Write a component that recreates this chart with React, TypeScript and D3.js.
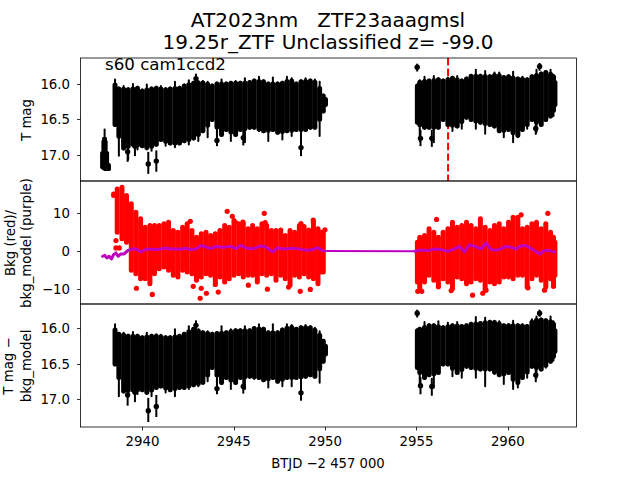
import React from "react";
import * as d3 from "d3";

const BASE = 2900;
const xDomain = [2936.61, 2963.76];
const xTicks = [2940, 2945, 2950, 2955, 2960];
const magTicks = [16, 16.5, 17];
const bkgTicks = [-10, 0, 10];
const eventTime = 2956.73;

// Early cluster, top panel only
const earlyT = [37.78, 37.85, 37.93, 38.0, 38.08, 38.18];
const earlyHi = [16.95, 16.75, 16.63, 16.75, 16.95, 17.12];
const earlyLo = [17.2, 17.22, 17.23, 17.23, 17.23, 17.23];

// Time bins of the dense black bands (days after 2900)
const magLeftT = [38.5, 38.71, 38.97, 39.22, 39.48, 39.73, 39.99, 40.24, 40.5, 40.76, 41.01, 41.27, 41.52, 41.78, 42.03, 42.29, 42.54, 42.8, 43.06, 43.31, 43.57, 43.82, 44.08, 44.33, 44.59, 44.84, 45.1, 45.36, 45.61, 45.87, 46.12, 46.38, 46.63, 46.89, 47.14, 47.4, 47.66, 47.91, 48.17, 48.42, 48.68, 48.93, 49.19, 49.44, 49.7, 49.9, 50.02];
const rightT = [55.05, 55.18, 55.44, 55.69, 55.95, 56.2, 56.46, 56.72, 56.97, 57.23, 57.48, 57.74, 57.99, 58.25, 58.5, 58.76, 59.02, 59.27, 59.53, 59.78, 60.04, 60.29, 60.55, 60.8, 61.06, 61.32, 61.57, 61.83, 62.08, 62.34, 62.5, 62.58];

// Top panel band limits
const magLeftHi = [15.93, 16.04, 16.02, 16.05, 15.99, 16.03, 16.07, 16.0, 16.04, 16.03, 16.02, 16.05, 16.04, 15.96, 16.03, 16.0, 15.94, 15.96, 15.95, 15.95, 15.96, 16.0, 15.97, 15.93, 15.97, 15.96, 15.95, 15.96, 15.91, 15.95, 15.93, 15.89, 15.94, 15.97, 15.9, 15.97, 15.96, 15.89, 15.91, 15.97, 15.94, 15.91, 15.93, 15.93, 15.96, 16.14, 16.19];
const magLeftLo = [16.61, 17.03, 16.94, 17.08, 16.89, 16.94, 16.91, 16.94, 16.96, 16.89, 16.82, 16.89, 16.87, 16.91, 16.87, 16.84, 16.87, 16.8, 16.82, 16.7, 16.77, 16.54, 16.87, 16.75, 16.68, 16.82, 16.75, 16.68, 16.84, 16.65, 16.65, 16.68, 16.7, 16.82, 16.68, 16.72, 16.8, 16.7, 16.75, 16.68, 17.0, 16.68, 16.65, 16.65, 16.75, 16.42, 16.33];
const magRightHi = [16.0, 15.94, 15.89, 15.93, 15.88, 15.91, 15.93, 15.9, 15.89, 15.88, 15.93, 15.9, 15.86, 15.79, 15.86, 15.81, 15.87, 15.83, 15.83, 15.88, 15.87, 15.82, 15.9, 15.89, 15.91, 15.87, 15.79, 15.83, 15.81, 15.79, 15.86, 15.95];
const magRightLo = [16.58, 16.82, 16.65, 16.65, 16.84, 16.65, 16.54, 16.61, 16.68, 16.63, 16.65, 16.51, 16.54, 16.65, 16.58, 16.72, 16.61, 16.63, 16.7, 16.77, 16.68, 16.84, 16.77, 16.68, 16.65, 16.54, 16.7, 16.61, 16.54, 16.49, 16.47, 16.33];

// Bottom panel band limits
const detLeftHi = [15.93, 16.05, 16.05, 16.08, 16.04, 16.08, 16.1, 16.05, 16.08, 16.07, 16.08, 16.1, 16.1, 16.0, 16.08, 16.05, 15.96, 15.98, 16.0, 16.03, 16.03, 16.05, 16.04, 15.96, 16.03, 16.0, 16.0, 16.0, 15.96, 16.0, 15.97, 15.93, 15.98, 16.03, 15.93, 16.03, 15.99, 15.93, 15.94, 15.98, 15.96, 15.94, 15.96, 15.98, 16.03, 16.15, 16.22];
const detLeftLo = [16.54, 16.97, 16.92, 16.97, 16.9, 16.94, 16.9, 16.94, 16.97, 16.87, 16.85, 16.92, 16.9, 16.97, 16.87, 16.87, 16.87, 16.83, 16.83, 16.8, 16.76, 16.59, 16.9, 16.8, 16.73, 16.87, 16.8, 16.73, 16.87, 16.71, 16.73, 16.73, 16.76, 16.85, 16.73, 16.78, 16.83, 16.73, 16.83, 16.73, 17.01, 16.71, 16.69, 16.71, 16.78, 16.5, 16.4];
const detRightHi = [16.0, 15.98, 15.9, 15.93, 15.93, 15.89, 15.96, 15.91, 15.93, 15.9, 15.94, 15.93, 15.91, 15.83, 15.9, 15.84, 15.88, 15.88, 15.89, 15.93, 15.93, 15.88, 15.93, 15.93, 15.94, 15.86, 15.82, 15.85, 15.86, 15.82, 15.89, 16.0];
const detRightLo = [16.59, 16.8, 16.73, 16.69, 16.85, 16.66, 16.54, 16.54, 16.69, 16.66, 16.71, 16.57, 16.59, 16.71, 16.61, 16.83, 16.61, 16.66, 16.69, 16.8, 16.66, 16.87, 16.85, 16.73, 16.71, 16.57, 16.71, 16.61, 16.57, 16.5, 16.47, 16.36];

// Isolated points with error bars: time, value, bright limit, faint limit
const magOutT = [40.32, 40.76, 48.68, 39.19, 39.59, 42.93, 44.08, 45.52, 55.04, 55.22, 55.84, 61.53, 61.74];
const magOutV = [17.13, 17.09, 16.9, 16.96, 16.88, 15.93, 16.8, 16.76, 15.77, 16.77, 16.77, 16.63, 15.76];
const magOutHi = [16.96, 16.94, 16.75, 16.87, 16.8, 15.86, 16.65, 16.65, 15.72, 16.65, 16.65, 16.51, 15.71];
const magOutLo = [17.27, 17.24, 17.02, 17.1, 17.02, 16.0, 16.88, 16.87, 15.83, 16.88, 16.89, 16.72, 15.82];
const detOutV = [17.16, 17.1, 16.91, 16.94, 16.9, 15.96, 16.85, 16.82, 15.79, 16.81, 16.82, 16.66, 15.79];
const detOutHi = [16.98, 16.94, 16.76, 16.87, 16.8, 15.89, 16.7, 16.7, 15.74, 16.69, 16.7, 16.55, 15.74];
const detOutLo = [17.32, 17.25, 17.02, 17.09, 17.04, 16.03, 16.93, 16.92, 15.85, 16.93, 16.95, 16.76, 15.84];

// Red background band
const bkgLeftT = [38.42, 38.62, 38.88, 39.13, 39.39, 39.64, 39.9, 40.15, 40.41, 40.66, 40.92, 41.18, 41.43, 41.69, 41.94, 42.2, 42.45, 42.71, 42.96, 43.22, 43.48, 43.73, 43.99, 44.24, 44.5, 44.75, 45.01, 45.27, 45.52, 45.78, 46.03, 46.29, 46.54, 46.8, 47.06, 47.31, 47.57, 47.82, 48.08, 48.33, 48.59, 48.85, 49.1, 49.36, 49.61, 49.8, 49.9];
const bkgLeftHi = [15.5, 16.8, 17.2, 15.1, 12.9, 10.7, 9.0, 6.8, 7.3, 7.3, 7.3, 7.7, 8.1, 6.0, 5.5, 6.8, 7.7, 6.0, 4.2, 5.1, 5.5, 4.7, 5.1, 6.0, 7.3, 6.8, 8.6, 7.7, 7.7, 6.4, 7.3, 6.4, 7.7, 7.3, 6.0, 6.0, 6.1, 4.7, 6.0, 5.5, 7.3, 7.0, 6.1, 8.1, 6.4, 5.5, 5.5];
const bkgLeftLo = [13.8, 4.2, 2.5, 1.6, -5.7, -6.6, -7.9, -7.9, -9.2, -6.6, -5.3, -4.8, -5.7, -7.0, -7.4, -5.7, -6.1, -6.6, -8.3, -7.4, -6.6, -7.0, -8.7, -7.4, -8.7, -7.9, -7.0, -6.6, -7.4, -7.0, -7.0, -8.7, -6.6, -7.0, -6.6, -8.3, -7.0, -7.9, -9.6, -7.0, -7.4, -6.6, -7.4, -7.9, -9.2, -6.1, -6.1];
const bkgRightHi = [2.9, 4.2, 4.7, 6.4, 5.5, 4.2, 5.5, 6.4, 8.1, 6.8, 7.3, 8.1, 7.3, 6.4, 9.0, 6.8, 6.0, 7.3, 7.7, 6.4, 8.1, 9.4, 9.4, 6.4, 6.8, 7.7, 8.1, 6.4, 7.7, 5.5, 4.2, 2.9];
const bkgRightLo = [-8.7, -10.5, -8.7, -7.0, -8.3, -9.6, -7.9, -8.7, -10.5, -7.4, -7.9, -9.2, -8.7, -7.9, -8.3, -10.9, -8.7, -9.2, -8.7, -7.4, -7.4, -7.9, -7.0, -7.0, -10.0, -7.9, -7.0, -8.3, -10.0, -7.9, -9.6, -7.0];
const bkgOutT = [39.67, 40.54, 42.78, 43.22, 43.5, 43.16, 43.99, 44.15, 45.8, 46.84, 48.64, 49.19, 48.0, 44.64, 44.92, 45.1, 45.5, 46.67, 46.72, 48.68, 49.35, 42.62, 49.99, 38.55, 38.55, 38.73, 56.1, 60.73, 62.19, 58.07, 62.01, 55.07, 55.29, 58.63, 58.81, 61.1, 56.2, 56.9, 62.5];
const bkgOutV = [-9.7, -11.3, -9.2, -9.7, -11, -12.3, -8.7, -10.7, -8.9, -9.95, -10.5, -10, -9.4, 10.3, 9.0, 7.4, 7.5, 9.8, 7.4, 7.1, 8.0, 7.7, 5.5, 2.7, 0.8, 0.8, 8.2, 9.4, 9.8, -11.5, -10.2, -10.5, -10.5, -11, -10.2, -9.6, -9.3, -10.3, -9.2];

// Purple background model
const modelLeftT = [37.82, 37.94, 38.05, 38.18, 38.31, 38.42, 38.55, 38.67, 38.82, 39.0, 39.19, 39.37, 39.64, 39.92, 40.19, 40.46, 40.74, 41.01, 41.29, 41.56, 41.83, 42.11, 42.38, 42.65, 42.93, 43.2, 43.48, 43.75, 44.02, 44.3, 44.57, 44.84, 45.12, 45.39, 45.67, 45.94, 46.21, 46.49, 46.76, 47.13, 47.4, 47.67, 47.95, 48.22, 48.5, 48.77, 49.04, 49.32, 49.59, 49.87];
const modelLeftV = [-1.39, -1.13, -1.82, -1.39, -2.08, -0.95, -0.52, -1.39, -0.78, -0.78, 0.09, 0.43, 0.6, -0.26, 0.43, 0.43, 0.35, 0.52, 0.78, 0.52, 0.52, 0.43, 0.69, 0.35, 0.52, 1.38, 1.04, 0.6, 1.21, 0.95, 1.04, 1.21, 0.6, 1.47, 0.78, 0.6, 0.78, 1.3, 1.04, -0.26, 0.86, 0.52, 0.6, 0.69, 0.6, 0.35, 0.17, 0.35, 0.86, 0.09];
const modelGapT = [49.87, 54.93];
const modelGapV = [0.0, -0.05];
const modelRightT = [54.93, 55.26, 55.62, 55.99, 56.35, 56.72, 57.08, 57.35, 57.63, 57.9, 58.18, 58.54, 58.81, 59.09, 59.36, 59.64, 59.91, 60.18, 60.46, 60.73, 61.01, 61.37, 61.74, 62.01, 62.28, 62.55];
const modelRightV = [-0.09, 0.26, 0.09, 0.52, 0.35, -0.09, 0.52, 1.21, -0.26, 1.64, 1.21, 0.52, 2.08, 0.35, 0.17, 0.6, 1.21, 0.95, 0.52, 1.38, 1.38, 0.35, -0.78, 0.09, 0.09, -0.26];

const titleLines = ["AT2023nm   ZTF23aaagmsl", "19.25r_ZTF Unclassified z= -99.0"];
const sectorLabel = "s60 cam1ccd2";
const xLabel = "BTJD −2 457 000";

const FONT = "'DejaVu Sans', sans-serif";
const L = 80.5, R = 576.5;
const x = d3.scaleLinear().domain(xDomain).range([L, R]);
const yTop = d3.scaleLinear().domain([15.64, 17.37]).range([58, 181]);
const yMid = d3.scaleLinear().domain([18.2, -13.8]).range([181, 304]);
const yBot = d3.scaleLinear().domain([15.66, 17.39]).range([304, 427]);

const BAND_W = 5;

function Band({ t, hi, lo, y, color, taper, w = BAND_W }: any) {
  return (
    <g stroke={color} fill="none" strokeLinecap="round">
      {t.map((d: number, i: number) => {
        const px = x(BASE + d);
        const hp = hi[i - 1] ?? hi[i];
        const hn = hi[i + 1] ?? hi[i];
        const lp = lo[i - 1] ?? lo[i];
        const ln = lo[i + 1] ?? lo[i];
        const fatHi = taper ? Math.max(hi[i], (hp + hn) / 2) : hi[i];
        const fatLo = taper ? Math.min(lo[i], (lp + ln) / 2) : lo[i];
        let a = y(fatHi) + w / 2;
        let b = y(fatLo) - w / 2;
        if (a > b) a = b = (a + b) / 2;
        return (
          <g key={i}>
            <line x1={px} x2={px} y1={a} y2={b} strokeWidth={w} />
            {taper && <line x1={px} x2={px} y1={y(hi[i]) + 1} y2={y(lo[i]) - 1} strokeWidth={2} />}
          </g>
        );
      })}
    </g>
  );
}

function Outliers({ v, hi, lo, y }: any) {
  return (
    <g>
      {magOutT.map((d, i) => (
        <g key={i}>
          <line x1={x(BASE + d)} x2={x(BASE + d)} y1={y(hi[i])} y2={y(lo[i])} stroke="#000" strokeWidth={2} />
          <circle cx={x(BASE + d)} cy={y(v[i])} r={2.7} fill="#000" />
        </g>
      ))}
    </g>
  );
}

function Frame({ y, ticks, top, fmt }: any) {
  return (
    <g>
      <rect x={L} y={top} width={R - L} height={123} fill="none" stroke="#000" strokeWidth={0.8} />
      {ticks.map((t: number) => (
        <g key={t}>
          <line x1={L - 3.5} x2={L} y1={Math.round(y(t)) + 0.5} y2={Math.round(y(t)) + 0.5} stroke="#000" strokeWidth={0.8} />
          <text x={70} y={y(t) + 5} textAnchor="end" fontSize={13.3} fill="#000">{fmt(t)}</text>
        </g>
      ))}
    </g>
  );
}

export default function App() {
  const mkLine = (vals: number[]) => d3.line<number>().x((d) => x(BASE + d)).y((_, i) => yMid(vals[i]));
  const fmtMag = (t: number) => t.toFixed(1);
  const fmtBkg = (t: number) => String(t).replace("-", "−");
  return (
    <svg width={640} height={480} style={{ position: "absolute", left: 0, top: 0 }} fontFamily={FONT}>
      <rect width={640} height={480} fill="#fff" />

      {/* top panel */}
      <line x1={x(eventTime)} x2={x(eventTime)} y1={58} y2={181} stroke="#f00" strokeWidth={2} strokeDasharray="7.4 3.2" />
      <Band t={earlyT} hi={earlyHi} lo={earlyLo} y={yTop} color="#000" taper w={3.5} />
      <Band t={magLeftT} hi={magLeftHi} lo={magLeftLo} y={yTop} color="#000" taper />
      <Band t={rightT} hi={magRightHi} lo={magRightLo} y={yTop} color="#000" taper />
      <Outliers v={magOutV} hi={magOutHi} lo={magOutLo} y={yTop} />
      <Frame y={yTop} ticks={magTicks} top={58} fmt={fmtMag} />

      {/* middle panel */}
      <Band t={bkgLeftT} hi={bkgLeftHi} lo={bkgLeftLo} y={yMid} color="#f00" />
      <Band t={rightT} hi={bkgRightHi} lo={bkgRightLo} y={yMid} color="#f00" />
      {bkgOutT.map((d, i) => (
        <circle key={i} cx={x(BASE + d)} cy={yMid(bkgOutV[i])} r={2.6} fill="#f00" />
      ))}
      <path d={mkLine(modelGapV)(modelGapT) as string} fill="none" stroke="#bf00bf" strokeWidth={2} />
      <path d={mkLine(modelLeftV)(modelLeftT) as string} fill="none" stroke="#bf00bf" strokeWidth={3} strokeLinejoin="round" strokeLinecap="round" />
      <path d={mkLine(modelRightV)(modelRightT) as string} fill="none" stroke="#bf00bf" strokeWidth={3} strokeLinejoin="round" strokeLinecap="round" />
      <Frame y={yMid} ticks={bkgTicks} top={181} fmt={fmtBkg} />

      {/* bottom panel */}
      <Band t={magLeftT} hi={detLeftHi} lo={detLeftLo} y={yBot} color="#000" taper />
      <Band t={rightT} hi={detRightHi} lo={detRightLo} y={yBot} color="#000" taper />
      <Outliers v={detOutV} hi={detOutHi} lo={detOutLo} y={yBot} />
      <Frame y={yBot} ticks={magTicks} top={304} fmt={fmtMag} />
      {xTicks.map((t) => (
        <g key={t}>
          <line x1={Math.round(x(t)) + 0.5} x2={Math.round(x(t)) + 0.5} y1={427} y2={430.5} stroke="#000" strokeWidth={0.8} />
          <text x={x(t)} y={446} textAnchor="middle" fontSize={13.3} fill="#000">{t}</text>
        </g>
      ))}

      {/* text */}
      <text x={328} y={27} textAnchor="middle" fontSize={20} fill="#000" style={{ whiteSpace: "pre" }}>{titleLines[0]}</text>
      <text x={328} y={49} textAnchor="middle" fontSize={20} fill="#000">{titleLines[1]}</text>
      <text x={105} y={70} fontSize={16.67} fill="#000">{sectorLabel}</text>
      <text x={328} y={468} textAnchor="middle" fontSize={13.2} fill="#000">{xLabel}</text>
      <text transform="translate(30.5,120) rotate(-90)" textAnchor="middle" fontSize={13.3} fill="#000">T mag</text>
      <text transform="translate(15,243) rotate(-90)" textAnchor="middle" fontSize={13.3} fill="#000">Bkg (red)/</text>
      <text transform="translate(30.5,243) rotate(-90)" textAnchor="middle" fontSize={13.3} fill="#000">bkg_model (purple)</text>
      <text transform="translate(13,366) rotate(-90)" textAnchor="middle" fontSize={13.3} fill="#000">T mag −</text>
      <text transform="translate(30.5,366) rotate(-90)" textAnchor="middle" fontSize={13.3} fill="#000">bkg_model</text>
    </svg>
  );
}
